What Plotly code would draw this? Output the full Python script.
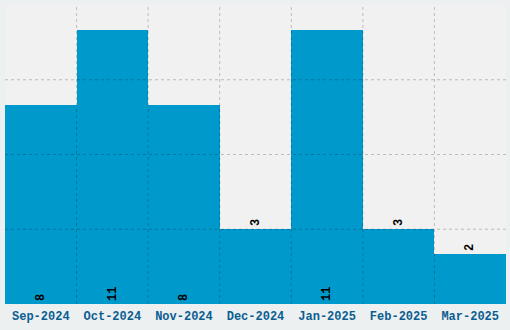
import plotly.graph_objects as go

months = ["Sep-2024", "Oct-2024", "Nov-2024", "Dec-2024", "Jan-2025", "Feb-2025", "Mar-2025"]
counts = [8, 11, 8, 3, 11, 3, 2]
label_pos = ["inside", "inside", "inside", "outside", "inside", "outside", "outside"]
y_grid = [3, 6, 9]

lbl_font = dict(family="Liberation Mono", size=12, color="#000000", weight="bold")

fig = go.Figure()
fig.add_trace(go.Bar(
    x=months, y=counts,
    marker=dict(color="#0099cc", line=dict(width=0)),
    text=[str(c) for c in counts],
    textposition=label_pos,
    textangle=-90,
    insidetextanchor="start",
    textfont=lbl_font,
    insidetextfont=lbl_font,
    outsidetextfont=lbl_font,
    cliponaxis=False,
    hoverinfo="x+y",
))

grid_line = dict(color="rgba(0,0,0,0.22)", width=1, dash="dot")
shapes = []
for i in range(len(months) - 1):
    shapes.append(dict(type="line", xref="x", yref="paper", x0=i + 0.5, x1=i + 0.5,
                       y0=0, y1=1, line=grid_line, layer="above"))
for g in y_grid:
    shapes.append(dict(type="line", xref="paper", yref="y", x0=0, x1=1,
                       y0=g, y1=g, line=grid_line, layer="above"))

fig.update_layout(
    width=510, height=330,
    margin=dict(l=5, r=4, t=5, b=26),
    paper_bgcolor="#edf0f1",
    plot_bgcolor="#f1f1f1",
    bargap=0,
    showlegend=False,
    shapes=shapes,
    xaxis=dict(type="category", showgrid=False, zeroline=False, showline=False,
               ticks="", ticklen=0, ticklabelstandoff=3, range=[-0.5, len(months) - 0.5],
               tickfont=dict(family="Liberation Mono", size=12, color="#0b5e91", weight="bold")),
    yaxis=dict(range=[0, 12], showgrid=False, zeroline=False, showticklabels=False,
               showline=False, ticks=""),
)

fig.write_html("out.html")
